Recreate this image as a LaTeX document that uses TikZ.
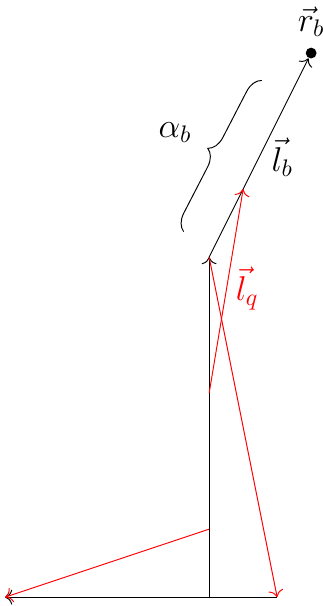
\documentclass[tikz,border=0pt]{standalone}
\usetikzlibrary{positioning,decorations.pathreplacing,arrows.meta}
\begin{document}
\begin{tikzpicture}[x=0.5cm, y=0.5cm, font=\Large, >={To[scale=1.2]},
    dot/.style={circle, fill, inner sep=1.6pt},
    qvec/.style={red, ->}]
  \useasboundingbox (-6.15,-0.26) rectangle (3.32,17.56);
  \coordinate (o) at (0,0);
  \coordinate (xl) at (-6,0);
  \coordinate (xr) at (2,0);
  \coordinate (b) at (0,10);
  \coordinate (q1) at (0,2);
  \coordinate (q2) at (0,6);
  \coordinate (q2e) at (1,12);
  \node[dot] (rb) at (3,16) {};
  \node[above=1pt of rb] (rblabel) {$\vec{r}_b$};
  \draw[->] (o) -- (xl);
  \draw (o) -- (xr);
  \draw[->] (o) -- (b);
  \draw[->] (b) -- (rb);
  \node (lb) at (2.15,12.94) {$\vec{l}_b$};
  \draw[decorate, decoration={brace, amplitude=7pt}] (-0.75,10.75) -- (1.55,15.2);
  \node (alpha) at (-1,13.65) {$\alpha_b$};
  \path[qvec]
    (q1) edge (xl)
    (q2) edge (q2e)
    (b) edge (xr);
  \node[red] (lq) at (1.12,9.07) {$\vec{l}_q$};
\end{tikzpicture}
\end{document}
